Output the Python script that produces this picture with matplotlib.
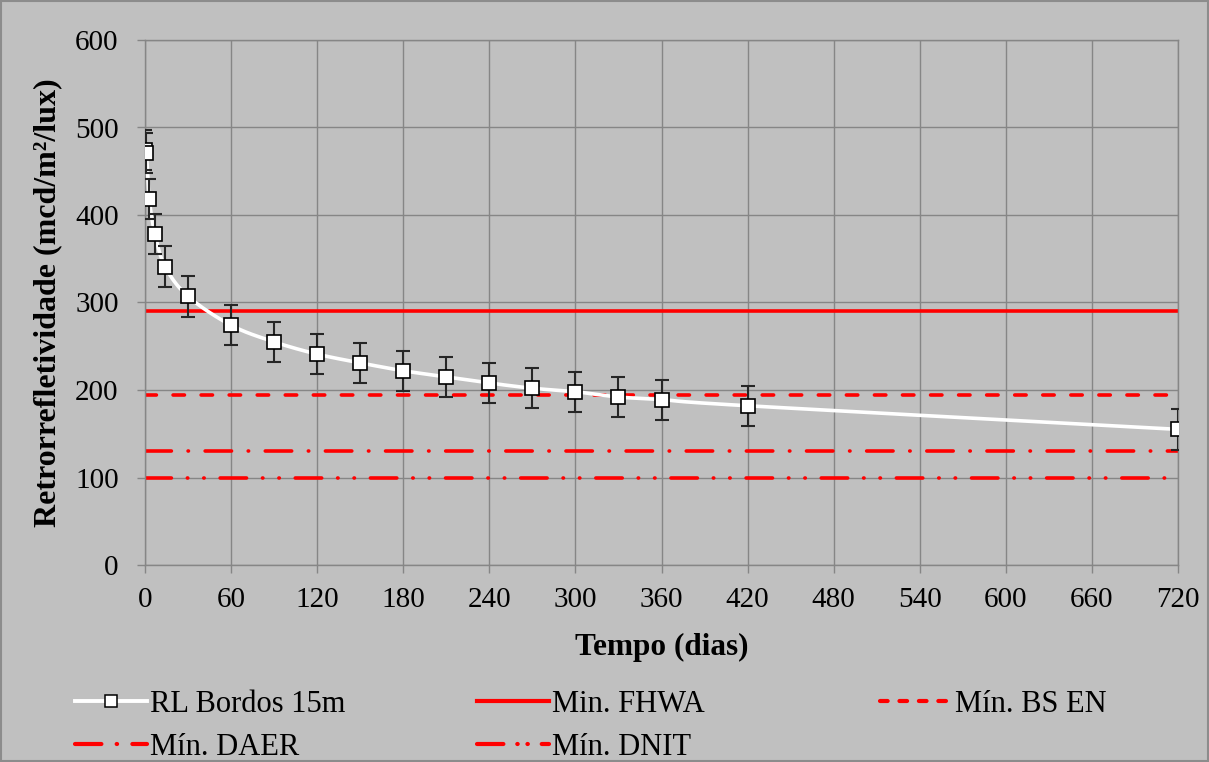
import matplotlib.pyplot as plt
import numpy as np
from matplotlib.lines import Line2D

plt.rcParams['font.family'] = ['Liberation Serif', 'DejaVu Serif']
plt.rcParams['lines.scale_dashes'] = False

# retrorrefletividade medida ao longo do tempo
dias = [0, 1, 3, 7, 14, 30, 60, 90, 120, 150, 180, 210, 240, 270, 300, 330, 360, 420, 720]
rl = [474, 471, 418, 378, 341, 307, 274, 255, 241, 231, 222, 215, 208, 202, 198, 192, 189, 182, 155]
erro = [23, 23, 23, 23, 23, 23, 23, 23, 23, 23, 23, 23, 23, 23, 23, 23, 23, 23, 23]

# valores minimos das normas
min_fhwa = 290
min_bsen = 194
min_daer = 130
min_dnit = 100
x_limites = [0, 720]

x_ticks = list(range(0, 721, 60))
y_ticks = list(range(0, 601, 100))

vermelho = '#ff0000'
fundo = '#c0c0c0'
grade = '#868686'

tracos_bsen = (8.2, 12)
tracos_daer = (19, 12, 0.3, 12)
tracos_dnit = (19, 11.5, 0.3, 11.5, 0.3, 11.5)


def suaviza(x, y, n=30):
    # curva suavizada (Catmull-Rom) passando pelos pontos
    p = np.column_stack([x, y]).astype(float)
    p = np.vstack([p[0], p, p[-1]])
    out = []
    for i in range(1, len(p) - 2):
        p0, p1, p2, p3 = p[i - 1], p[i], p[i + 1], p[i + 2]
        t = np.linspace(0, 1, n)[:, None]
        c = 0.5 * ((2 * p1) + (-p0 + p2) * t + (2 * p0 - 5 * p1 + 4 * p2 - p3) * t ** 2
                   + (-p0 + 3 * p1 - 3 * p2 + p3) * t ** 3)
        out.append(c)
    c = np.vstack(out)
    return c[:, 0], c[:, 1]


fig = plt.figure(figsize=(12.09, 7.62), dpi=100, facecolor=fundo)
ax = fig.add_axes([145 / 1209, 1 - 565 / 762, (1178 - 145) / 1209, (565 - 40) / 762])
ax.set_facecolor(fundo)

fig.patches.append(plt.Rectangle((0.0008, 0.001), 0.9984, 0.998, transform=fig.transFigure,
                                 fill=False, edgecolor='#8c8c8c', linewidth=1.5))

lw = 2.6
estilo = dict(color=vermelho, lw=lw, dash_capstyle='round', solid_capstyle='butt', zorder=2)
ax.plot(x_limites, [min_fhwa] * 2, **estilo)
ax.plot(x_limites, [min_bsen] * 2, dashes=tracos_bsen, **estilo)
ax.plot(x_limites, [min_daer] * 2, dashes=tracos_daer, **estilo)
ax.plot(x_limites, [min_dnit] * 2, dashes=tracos_dnit, **estilo)

xs, ys = suaviza(dias, rl)
ax.plot(xs, ys, color='white', lw=2.6, zorder=3)
ax.errorbar(dias, rl, yerr=erro, fmt='none', ecolor='#262626', elinewidth=1.5,
            capsize=4.7, capthick=1.5, zorder=4)
ax.plot(dias, rl, ls='none', marker='s', markersize=10, markerfacecolor='white',
        markeredgecolor='black', markeredgewidth=1.2, zorder=5)

ax.set_xlim(0, 720)
ax.set_ylim(0, 600)
ax.set_xticks(x_ticks)
ax.set_yticks(y_ticks)
ax.grid(True, color=grade, lw=1.0)
ax.set_axisbelow(True)
for s in ax.spines.values():
    s.set_color(grade)
    s.set_linewidth(1.0)
ax.tick_params(axis='both', colors=grade, labelcolor='black', labelsize=21, length=6, width=1.0)
ax.tick_params(axis='x', pad=10)
ax.tick_params(axis='y', pad=13)

ax.set_xlabel('Tempo (dias)', fontsize=22.5, fontweight='bold', labelpad=14)
ax.set_ylabel('Retrorrefletividade (mcd/m²/lux)', fontsize=23, fontweight='bold', labelpad=9)

h_rl = Line2D([], [], color='white', lw=2.8, marker='s', markersize=9,
              markerfacecolor='white', markeredgecolor='black', markeredgewidth=1.1)
h_fhwa = Line2D([], [], color=vermelho, lw=3)
h_bsen = Line2D([], [], color=vermelho, lw=3, dashes=(5.5, 8.5), dash_capstyle='round')
h_daer = Line2D([], [], color=vermelho, lw=3, dashes=(19, 11, 0.3, 11), dash_capstyle='round')
h_dnit = Line2D([], [], color=vermelho, lw=3, dashes=(19, 10, 0.3, 7, 0.3, 10), dash_capstyle='round')

colunas = [([h_rl, h_daer], ['RL Bordos 15m', 'Mín. DAER'], 75),
           ([h_fhwa, h_dnit], ['Min. FHWA', 'Mín. DNIT'], 477),
           ([h_bsen], ['Mín. BS EN'], 880)]
for hs, ls, x0 in colunas:
    fig.legend(hs, ls, loc='upper left', bbox_to_anchor=(x0 / 1209, 1 - 690 / 762),
               frameon=False, fontsize=22, handlelength=2.35, handletextpad=0.1,
               borderpad=0, borderaxespad=0, labelspacing=0.45)

fig.savefig('out.png', dpi=100, facecolor=fundo)
